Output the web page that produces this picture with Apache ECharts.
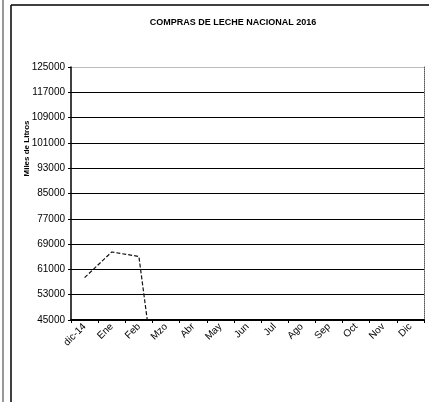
<!DOCTYPE html>
<html>
<head>
<meta charset="utf-8">
<script src="https://cdn.jsdelivr.net/npm/echarts@6/dist/echarts.min.js"></script>
<style>html,body{margin:0;padding:0;background:#fff}#c{width:429px;height:402px}</style>
</head>
<body>
<div id="c"></div>
<script>
const titleText = 'COMPRAS DE LECHE NACIONAL 2016';
const yName = 'Miles de Litros';
const categories = ['dic-14','Ene','Feb','Mzo','Abr','May','Jun','Jul','Ago','Sep','Oct','Nov','Dic'];
const compras = [58400, 66500, 65100, 0, 0, 0, 0, 0, 0, 0, 0, 0, 0];
const yMin = 45000, yMax = 125000, yStep = 8000;

const chart = echarts.init(document.getElementById('c'), null, {renderer: 'canvas'});
const gridColors = [];
for (let v = yMin; v <= yMax; v += yStep) gridColors.push(v === yMax ? '#bbbbbb' : '#000000');

chart.setOption({
  backgroundColor: '#fff',
  animation: false,
  title: {
    text: titleText, left: 228, top: 13, textAlign: 'center',
    textStyle: {fontFamily: 'Liberation Sans', fontSize: 9, fontWeight: 'bold', color: '#000'}
  },
  grid: {left: 71, right: 5, top: 67, bottom: 82},
  xAxis: {
    type: 'category', data: categories, boundaryGap: true,
    axisLine: {lineStyle: {color: '#000', width: 2}},
    axisTick: {show: true, length: 3, lineStyle: {color: '#000'}},
    axisLabel: {rotate: 45, margin: 5, fontFamily: 'Liberation Sans', fontSize: 10, color: '#000', interval: 0},
    splitLine: {show: false}
  },
  yAxis: [{
    type: 'value', min: yMin, max: yMax, interval: yStep,
    name: yName, nameLocation: 'middle', nameGap: 40, nameRotate: 90, nameMoveOverlap: false,
    nameTextStyle: {fontFamily: 'Liberation Sans', fontSize: 8, fontWeight: 'bold', color: '#000', padding: [0, 0, 0, 90]},
    axisLine: {show: true, lineStyle: {color: '#000', width: 1.5}},
    axisTick: {show: true, length: 3, lineStyle: {color: '#000'}},
    axisLabel: {fontFamily: 'Liberation Sans', fontSize: 10, color: '#000', margin: 6, formatter: v => String(v)},
    splitLine: {show: true, lineStyle: {color: gridColors, width: 1}}
  }, {
    type: 'value', min: yMin, max: yMax, interval: yStep, position: 'right',
    axisLine: {show: true, lineStyle: {color: '#555', width: 1, type: 'dotted'}},
    axisTick: {show: false}, axisLabel: {show: false}, splitLine: {show: false}
  }],
  series: [{
    type: 'line', data: compras, yAxisIndex: 0, symbol: 'none', clip: true,
    lineStyle: {color: '#111', width: 1.2, type: [4, 2]}
  }],
  graphic: [
    {type: 'line', shape: {x1: 11, y1: 5, x2: 11, y2: 402}, style: {stroke: '#000', lineWidth: 1.5}},
    {type: 'line', shape: {x1: 11, y1: 5, x2: 429, y2: 5}, style: {stroke: '#000', lineWidth: 1.5}},
    {type: 'line', shape: {x1: 3, y1: 0, x2: 3, y2: 402}, style: {stroke: '#333', lineWidth: 1}}
  ]
});
</script>
</body>
</html>
